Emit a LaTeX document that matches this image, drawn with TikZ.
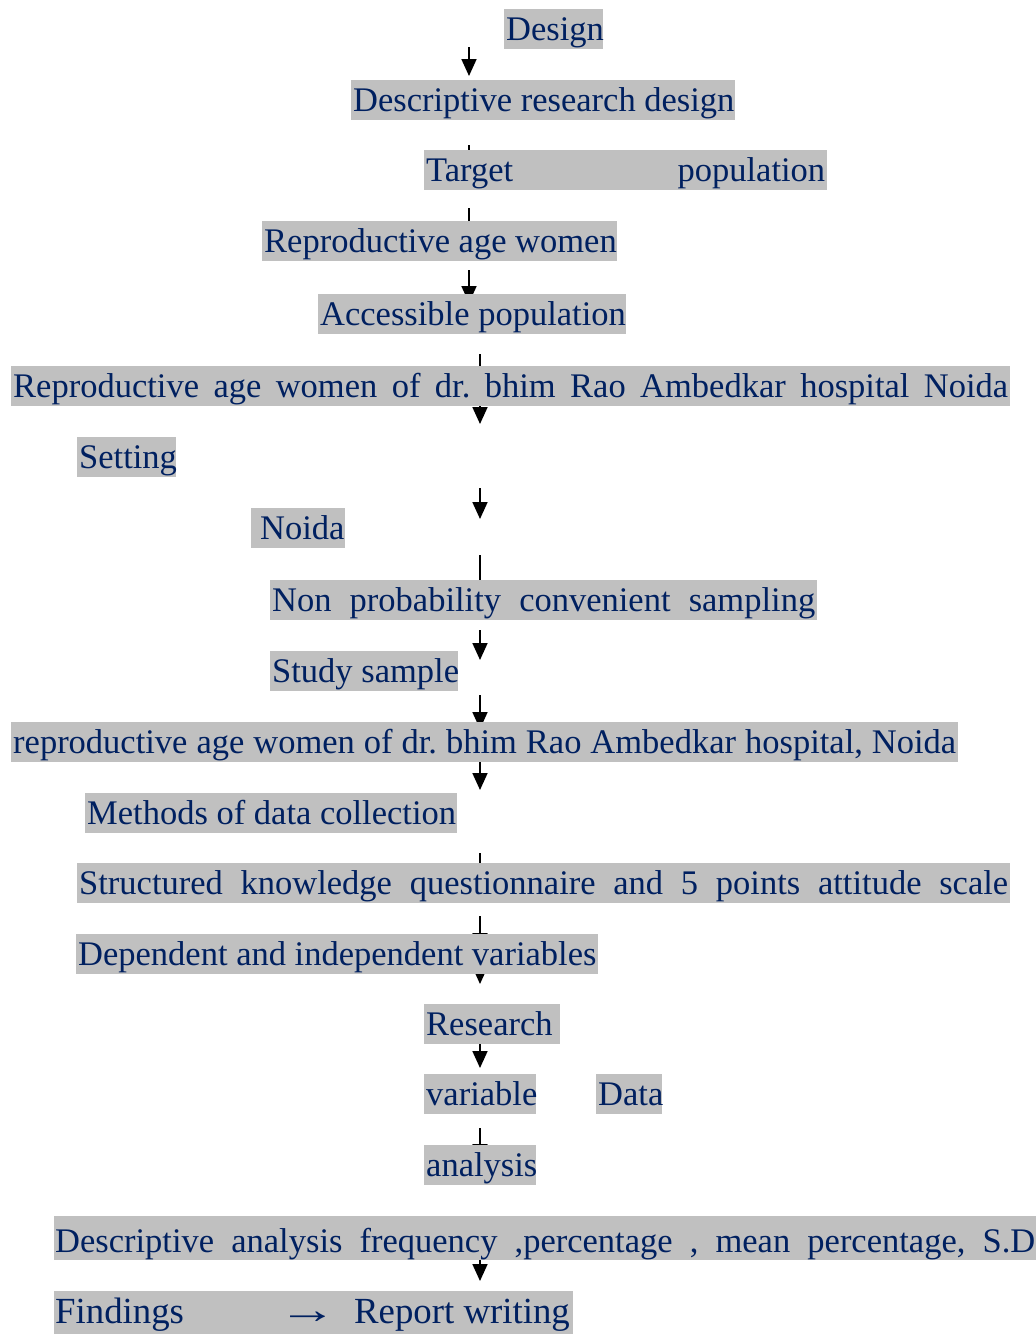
\documentclass[tikz,border=0pt]{standalone}
\usepackage{fontspec}
\setmainfont{Liberation Serif}
\usetikzlibrary{arrows.meta}
\definecolor{hlgray}{RGB}{192,192,192}
\definecolor{navytext}{RGB}{0,32,96}
\tikzset{
  hl/.style={fill=hlgray, inner xsep=2pt, inner ysep=0pt, text height=31.5pt, text depth=8.5pt,
    anchor=north west, text=navytext, font=\fontsize{34.5pt}{40pt}\selectfont\frenchspacing},
  big/.style={font=\fontsize{36.8pt}{44pt}\selectfont\frenchspacing},
  conn/.style={draw=black, line width=1.8pt, -{Triangle[width=15pt,length=17pt]}},
  plainconn/.style={draw=black, line width=1.8pt}
}
\begin{document}
\begin{tikzpicture}[x=1pt,y=-1pt]
\useasboundingbox (0,0) rectangle (1036,1334);
% connector end points
\coordinate (a1s) at (469,47);   \coordinate (a1e) at (469,76);
\coordinate (a2s) at (469,145);  \coordinate (a2e) at (469,165);
\coordinate (a3s) at (469,208);  \coordinate (a3e) at (469,230);
\coordinate (a4s) at (469,270);  \coordinate (a4e) at (469,303);
\coordinate (a5s) at (480,354);  \coordinate (a5e) at (480,424);
\coordinate (a6s) at (480,488);  \coordinate (a6e) at (480,519);
\coordinate (a7s) at (480,555);  \coordinate (a7e) at (480,592);
\coordinate (a8s) at (480,630);  \coordinate (a8e) at (480,660);
\coordinate (a9s) at (480,695);  \coordinate (a9e) at (480,729);
\coordinate (a10s) at (480,755); \coordinate (a10e) at (480,790);
\coordinate (a11s) at (480,853); \coordinate (a11e) at (480,875);
\coordinate (a12s) at (480,916); \coordinate (a12e) at (480,950);
\coordinate (a13s) at (480,960); \coordinate (a13e) at (480,984);
\coordinate (a14s) at (480,1040);\coordinate (a14e) at (480,1068);
\coordinate (a15s) at (480,1128);\coordinate (a15e) at (480,1161);
\coordinate (a16s) at (480,1250);\coordinate (a16e) at (480,1281);
% connectors (drawn under the highlighted boxes)
\draw[conn] (a1s) -- (a1e);
\draw[plainconn] (a2s) -- (a2e);
\draw[plainconn] (a3s) -- (a3e);
\draw[conn] (a4s) -- (a4e);
\draw[conn] (a5s) -- (a5e);
\draw[conn] (a6s) -- (a6e);
\draw[plainconn] (a7s) -- (a7e);
\draw[conn] (a8s) -- (a8e);
\draw[conn] (a9s) -- (a9e);
\draw[conn] (a10s) -- (a10e);
\draw[plainconn] (a11s) -- (a11e);
\draw[conn] (a12s) -- (a12e);
\draw[conn] (a13s) -- (a13e);
\draw[conn] (a14s) -- (a14e);
\draw[conn] (a15s) -- (a15e);
\draw[conn] (a16s) -- (a16e);
% highlighted text boxes
\node[hl] (design) at (504,9) {\makebox[95pt][l]{Design}};
\node[hl] (drd) at (351,80) {\makebox[380pt][l]{Descriptive research design}};
\node[hl] (target) at (424,150) {\makebox[399pt][s]{Target population}};
\node[hl] (raw) at (262,221) {\makebox[351pt][l]{Reproductive age women}};
\node[hl] (acc) at (318,294) {\makebox[304pt][l]{Accessible population}};
\node[hl] (rawh) at (11,366) {\makebox[995pt][s]{Reproductive age women of dr. bhim Rao Ambedkar hospital Noida}};
\node[hl] (setting) at (77,437) {\makebox[95pt][l]{Setting}};
\node[hl] (noida) at (251,508) {\makebox[90pt][l]{\hspace{7pt}Noida}};
\node[hl] (nonprob) at (270,580) {\makebox[543pt][s]{Non probability convenient sampling}};
\node[hl] (study) at (270,651) {\makebox[184pt][l]{Study sample}};
\node[hl] (rawh2) at (11,722) {\makebox[943pt][s]{reproductive age women of dr. bhim Rao Ambedkar hospital, Noida}};
\node[hl] (methods) at (85,793) {\makebox[368pt][l]{Methods of data collection}};
\node[hl] (struct) at (77,863) {\makebox[929pt][s]{Structured knowledge questionnaire and 5 points attitude scale}};
\node[hl] (dep) at (76,934) {\makebox[518pt][l]{Dependent and independent variables}};
\node[hl] (research) at (424,1004) {\makebox[132pt][l]{Research}};
\node[hl] (variable) at (424,1074) {\makebox[108pt][l]{variable}};
\node[hl] (data) at (596,1074) {\makebox[62pt][l]{Data}};
\node[hl] (analysis) at (424,1145) {\makebox[108pt][l]{analysis}};
\node[hl, inner xsep=1pt, text height=36.7pt, text depth=7.5pt] (descan) at (54,1216) {\makebox[980pt][s]{Descriptive analysis frequency ,percentage , mean percentage, S.D}};
\node[hl, big, inner xsep=1pt, text height=32.3pt, text depth=11pt] (findings) at (54,1291) {\makebox[517pt][l]{\rlap{Findings}\hspace{223pt}\rlap{\scalebox{1.6}[1.1]{→}}\hspace{76pt}Report writing}};
\end{tikzpicture}
\end{document}
